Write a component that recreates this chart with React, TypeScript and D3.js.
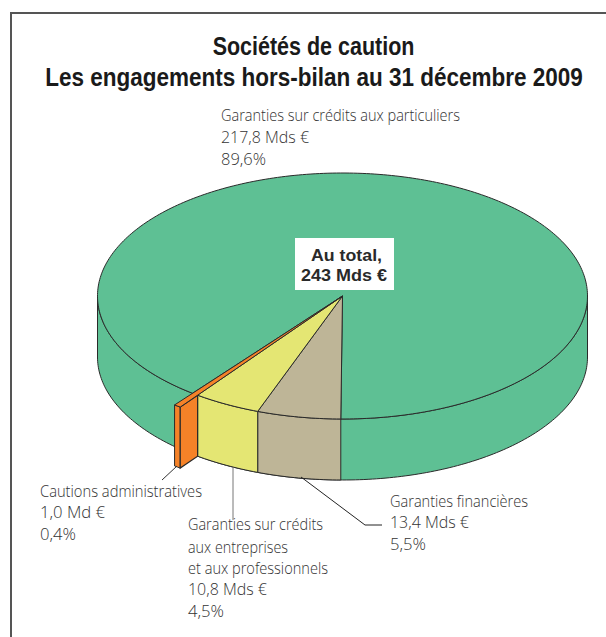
import React from "react";
import * as d3 from "d3";

const titleLines = ["Sociétés de caution", "Les engagements hors-bilan au 31 décembre 2009"];
const categories = ["Garanties financières", "Garanties sur crédits aux entreprises et aux professionnels", "Cautions administratives", "Garanties sur crédits aux particuliers"];
const values = [13.4, 10.8, 1.0, 217.8];
const colors = ["#BEB597", "#E4E673", "#F58228", "#5EC094"];
const explode = [1, 1, 1.12, 1];

const cx = 342.5, cy = 296, rx = 245, ry = 123, depth = 61;
const rad = (d: number) => (d * Math.PI) / 180;
const arcs = d3.pie<number>().sort(null).startAngle(rad(180.4)).endAngle(rad(540.4))(values);

const px = (a: number, k = 1) => cx + rx * k * Math.sin(a);
const py = (a: number, k = 1, z = 0) => cy - ry * k * Math.cos(a) + z;

function arcPts(a0: number, a1: number, k: number, z: number) {
  const n = Math.max(2, Math.ceil(Math.abs(a1 - a0) / rad(1)));
  return d3.range(n + 1).map((i) => {
    const a = a0 + ((a1 - a0) * i) / n;
    return [px(a, k), py(a, k, z)] as [number, number];
  });
}
const line = d3.line();
const top = (a0: number, a1: number, k: number) =>
  line([[cx, cy], ...arcPts(a0, a1, k, 0)])! + "Z";
const wall = (a0: number, a1: number, k: number) =>
  line([...arcPts(a0, a1, k, 0), ...arcPts(a1, a0, k, depth)])! + "Z";

const stroke = "#2a2a2a";
const labelFont = "'Open Sans', 'Noto Sans', sans-serif";

type L = { x: number; lines: string[]; ys: number[]; w: number[] };
const labels: L[] = [
  { x: 221, lines: ["Garanties sur crédits aux particuliers", "217,8 Mds €", "89,6%"], ys: [121, 143, 165], w: [239, 88, 45] },
  { x: 40, lines: ["Cautions administratives", "1,0 Md €", "0,4%"], ys: [497, 518, 540], w: [162, 65, 36] },
  { x: 188, lines: ["Garanties sur crédits", "aux entreprises", "et aux professionnels", "10,8 Mds €", "4,5%"], ys: [530, 553, 574, 595, 617], w: [135, 100, 140, 79, 36] },
  { x: 390, lines: ["Garanties financières", "13,4 Mds €", "5,5%"], ys: [507, 528, 550], w: [138, 79, 36] },
];
const leaders = [
  { d: "M162,480L177,466", c: "#333" },
  { d: "M233,467V520", c: "#777" },
  { d: "M301,477L365,525H382", c: "#222" },
];

export default function App() {
  const green = arcs[3], orange = arcs[2], yellow = arcs[1], tan = arcs[0];
  return (
    <svg width={606} height={637} style={{ position: "absolute", left: 0, top: 0, background: "#fff" }}>
      <path d="M11,637V13H606" fill="none" stroke="#555" strokeWidth={2} />
      <g fontFamily="'Liberation Sans', sans-serif" fontWeight={700} fill="#1a1a1a" fontSize={25} textAnchor="middle">
        <text transform="translate(313.5,55) scale(0.86,1)">{titleLines[0]}</text>
        <text transform="translate(314,86) scale(0.9,1)">{titleLines[1]}</text>
      </g>
      <title>{categories.join(", ")}</title>

      <path d={wall(rad(90), rad(270), 1)} fill={colors[3]} stroke={stroke} strokeWidth={1} />
      <path d={top(green.startAngle, green.endAngle, 1)} fill={colors[3]} stroke={stroke} strokeWidth={1} />
      <path d={wall(tan.startAngle, tan.endAngle, 1)} fill={colors[0]} stroke={stroke} strokeWidth={1} />
      <path d={wall(yellow.startAngle, yellow.endAngle, 1)} fill={colors[1]} stroke={stroke} strokeWidth={1} />
      <path d={top(tan.startAngle, tan.endAngle, 1)} fill={colors[0]} stroke={stroke} strokeWidth={1} />
      <path d={top(yellow.startAngle, yellow.endAngle, 1)} fill={colors[1]} stroke={stroke} strokeWidth={1} />
      <path d={wall(orange.endAngle, orange.startAngle, explode[2])} fill={colors[2]} stroke={stroke} strokeWidth={1} />
      <path
        d={line([
          [px(orange.startAngle), py(orange.startAngle)],
          [px(orange.startAngle, explode[2]), py(orange.startAngle, explode[2])],
          [px(orange.startAngle, explode[2]), py(orange.startAngle, explode[2], depth)],
          [px(orange.startAngle), py(orange.startAngle, 1, depth)],
        ])! + "Z"}
        fill={colors[2]}
        stroke={stroke}
        strokeWidth={1.2}
      />
      <path d={top(orange.startAngle, orange.endAngle, explode[2])} fill={colors[2]} stroke={stroke} strokeWidth={1} />

      {leaders.map((l, i) => (
        <path key={i} d={l.d} fill="none" stroke={l.c} strokeWidth={1} />
      ))}

      <rect x={295} y={238} width={99} height={52} fill="#fff" />
      <g fontFamily="'Liberation Sans', sans-serif" fontWeight={700} fontSize={17} fill="#2a2a2a">
        <text x={311} y={261} textLength={71} lengthAdjust="spacingAndGlyphs">Au total,</text>
        <text x={301} y={281} textLength={86} lengthAdjust="spacingAndGlyphs">243 Mds €</text>
      </g>

      <g fontFamily={labelFont} fontWeight={300} fontSize={16} fill="#333">
        {labels.map((l) =>
          l.lines.map((t, i) => (
            <text key={t} x={l.x} y={l.ys[i]} textLength={l.w[i]} lengthAdjust="spacingAndGlyphs">{t}</text>
          ))
        )}
      </g>
    </svg>
  );
}
